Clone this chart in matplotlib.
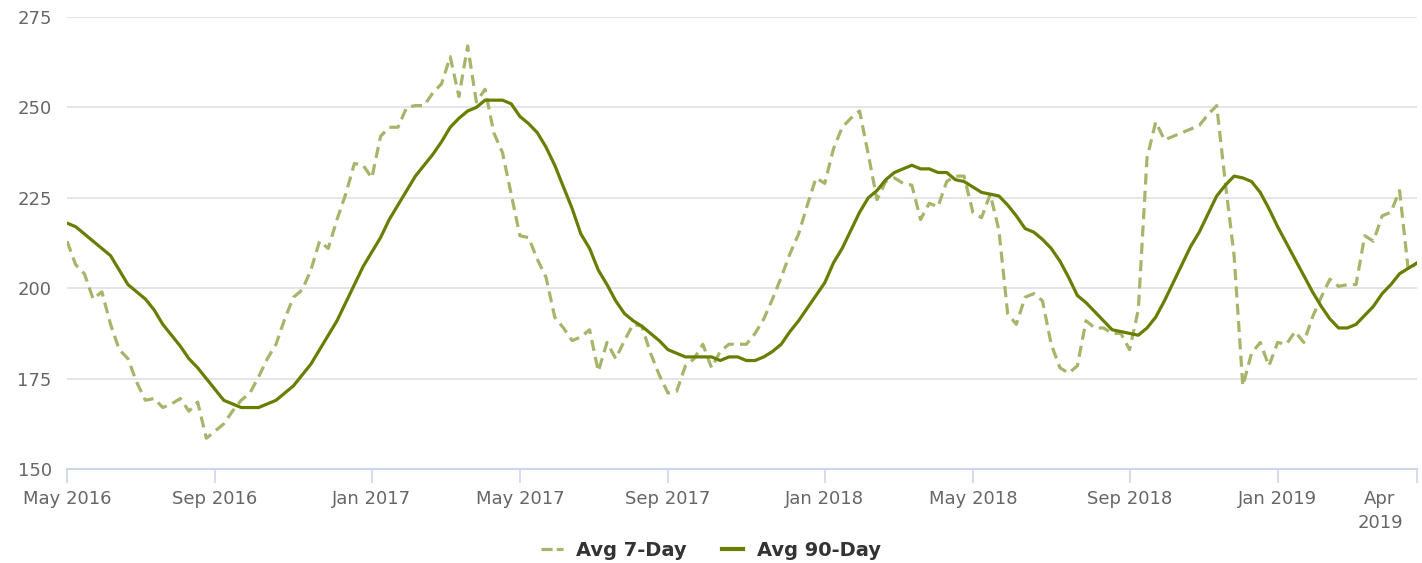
import matplotlib
matplotlib.use("Agg")
import matplotlib.pyplot as plt
import matplotlib.transforms as mtransforms
from matplotlib.lines import Line2D
import pandas as pd
import numpy as np

# ---- data (weekly, Fridays) ----
start_date = "2016-05-06"
n_weeks = 156

avg_7day = [
    213, 206.5, 204, 197, 199, 190, 183, 180.5, 174, 169,
    169.5, 167, 168, 169.5, 166, 168.5, 158.5, 160.5, 162.5, 166,
    169, 171, 175.5, 180.5, 184.5, 191.5, 197.5, 199.5, 205, 213,
    211, 219, 226, 234.5, 234, 230.5, 242, 244.5, 244.5, 250,
    250.5, 250.5, 254, 256.5, 264, 253, 267, 251.5, 255, 243,
    237.5, 226, 214.5, 214, 208, 203, 192, 189, 185.5, 186.5,
    188.5, 177, 185, 180.5, 185.5, 190, 189.5, 182, 176, 171,
    171.5, 178.5, 180.5, 184.5, 178, 182.5, 184.5, 184.5, 184.5, 187.5,
    191.5, 197, 203, 209.5, 215, 223, 230.5, 229, 238.5, 244.5,
    247, 249, 237, 224.5, 229.5, 230.5, 229, 228.5, 219, 223.5,
    222.5, 229.5, 231, 231, 221, 219.5, 226, 216, 193, 190,
    197.5, 198.5, 196.5, 184.5, 178, 176.5, 178.5, 191, 189, 189,
    187.5, 187.5, 183, 194, 236, 246, 241, 242, 243, 244,
    245, 248, 250.5, 229, 209, 173, 182, 185, 178.5, 185,
    184.5, 188, 185, 192, 197.5, 202.5, 200.5, 201, 201, 214.5,
    213, 220, 221, 227, 205, 207,
]

avg_90day = [
    218, 217, 215, 213, 211, 209, 205, 201, 199, 197,
    194, 190, 187, 184, 180.5, 178, 175, 172, 169, 168,
    167, 167, 167, 168, 169, 171, 173, 176, 179, 183,
    187, 191, 196, 201, 206, 210, 214, 219, 223, 227,
    231, 234, 237, 240.5, 244.5, 247, 249, 250, 252, 252,
    252, 251, 247.5, 245.5, 243, 239, 234, 228, 222, 215,
    211, 205, 201, 196.5, 193, 191, 189.5, 187.5, 185.5, 183,
    182, 181, 181, 181, 181, 180, 181, 181, 180, 180,
    181, 182.5, 184.5, 188, 191, 194.5, 198, 201.5, 207, 211,
    216, 221, 225, 227, 230, 232, 233, 234, 233, 233,
    232, 232, 230, 229.5, 228, 226.5, 226, 225.5, 223, 220,
    216.5, 215.5, 213.5, 211, 207.5, 203, 198, 196, 193.5, 191,
    188.5, 188, 187.5, 187, 189, 192, 196.5, 201.5, 206.5, 211.5,
    215.5, 220.5, 225.5, 228.5, 231, 230.5, 229.5, 226.5, 222, 217,
    212.5, 208, 203.5, 199, 195, 191.5, 189, 189, 190, 192.5,
    195, 198.5, 201, 204, 205.5, 207,
]

series_names = ["Avg 7-Day", "Avg 90-Day"]
y_ticks = [150, 175, 200, 225, 250, 275]
tick_months = [5, 9, 1]

dates = pd.date_range(start_date, periods=n_weeks, freq="7D")
idx = np.arange(n_weeks)

# ---- figure ----
plt.rcParams["font.family"] = ["DejaVu Sans"]
plt.rcParams["lines.scale_dashes"] = False

fig = plt.figure(figsize=(14.22, 5.63), dpi=100)
ax = fig.add_axes([67 / 1422, 1 - 469 / 563, (1417 - 67) / 1422, (469 - 17) / 563])

c7 = "#a5b66b"
c90 = "#677f00"

ax.plot(idx, avg_7day, color=c7, lw=2.3, dashes=(8, 4.5), solid_joinstyle="round",
        dash_joinstyle="round", label=series_names[0], zorder=3)
ax.plot(idx, avg_90day, color=c90, lw=2.3, solid_joinstyle="round", label=series_names[1], zorder=4)

ax.set_xlim(0, n_weeks - 1)
ax.set_ylim(150, 275)

# y axis
ax.set_yticks(y_ticks)
ax.set_yticklabels([str(v) for v in y_ticks])
for v in y_ticks[1:]:
    ax.axhline(v, color="#e0e0e0", lw=1.2, zorder=1)
ax.tick_params(axis="y", length=0, pad=11, labelsize=13, labelcolor="#666666")

# x axis: first week of each 4-month period plus last point
tick_pos, tick_lab = [], []
seen = set()
for i, d in enumerate(dates):
    key = (d.year, d.month)
    if d.month in tick_months and key not in seen:
        seen.add(key)
        tick_pos.append(i)
        tick_lab.append(d.strftime("%b %Y"))
tick_pos.append(n_weeks - 1)
tick_lab.append(dates[-1].strftime("%b\n%Y"))
ax.set_xticks(tick_pos)
ax.set_xticklabels(tick_lab)
ax.tick_params(axis="x", length=10, width=1.2, color="#ccd6eb", pad=5,
               labelsize=13, labelcolor="#666666")
last = ax.get_xticklabels()[-1]
last.set_transform(last.get_transform() + mtransforms.ScaledTranslation(-0.37, 0, fig.dpi_scale_trans))
last.set_linespacing(1.45)

for s in ["top", "right", "left"]:
    ax.spines[s].set_visible(False)
ax.spines["bottom"].set_color("#ccd6eb")
ax.spines["bottom"].set_linewidth(1.5)

# legend
handles = [
    Line2D([], [], color=c7, lw=2.3, dashes=(8, 3)),
    Line2D([], [], color=c90, lw=3),
]
leg = fig.legend(handles, series_names, loc="lower center", bbox_to_anchor=(0.5, -0.026),
                 ncol=2, frameon=False, handlelength=1.1, handletextpad=0.7,
                 columnspacing=1.8, prop={"size": 14, "weight": "bold"})
for t in leg.get_texts():
    t.set_color("#333333")

fig.savefig("out.png", dpi=100)
